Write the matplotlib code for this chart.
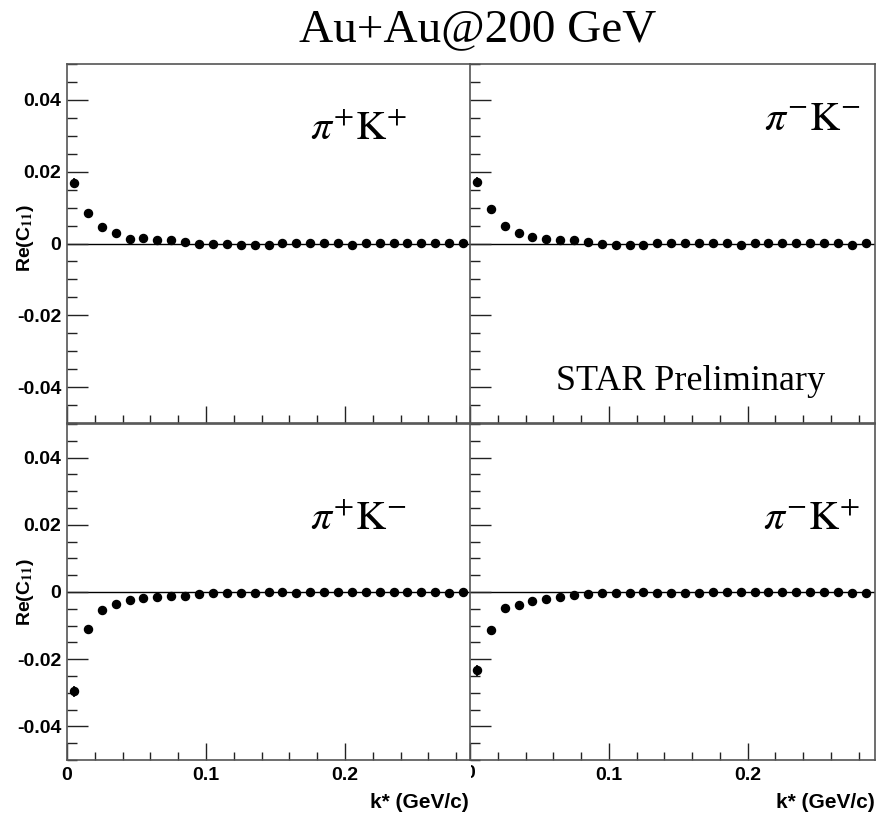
import matplotlib
matplotlib.use("Agg")
import matplotlib.pyplot as plt
from matplotlib.ticker import MultipleLocator
from matplotlib.transforms import Bbox, TransformedBbox

# k* bin centres (GeV/c)
kstar = [0.005, 0.015, 0.025, 0.035, 0.045, 0.055, 0.065, 0.075, 0.085, 0.095,
         0.105, 0.115, 0.125, 0.135, 0.145, 0.155, 0.165, 0.175, 0.185, 0.195,
         0.205, 0.215, 0.225, 0.235, 0.245, 0.255, 0.265, 0.275, 0.285]

# Re(C11) per pair
pipkp = [0.0169, 0.0085, 0.0047, 0.0029, 0.0013, 0.0016, 0.0010, 0.0010, 0.0003, 0.0000,
         0.0000, 0.0000, -0.0003, -0.0003, -0.0003, 0.0001, 0.0001, 0.0001, 0.0001, 0.0001,
         -0.0003, 0.0001, 0.0001, 0.0001, 0.0001, 0.0001, 0.0001, 0.0001, 0.0001]
pimkm = [0.0171, 0.0095, 0.0050, 0.0030, 0.0017, 0.0013, 0.0010, 0.0011, 0.0004, 0.0000,
         -0.0004, -0.0003, -0.0003, 0.0001, 0.0001, 0.0001, 0.0001, 0.0001, 0.0001, -0.0004,
         0.0001, 0.0001, 0.0001, 0.0001, 0.0001, 0.0001, 0.0001, -0.0004, 0.0001]
pipkm = [-0.0296, -0.0109, -0.0053, -0.0035, -0.0024, -0.0019, -0.0015, -0.0011, -0.0011, -0.0007,
         -0.0004, -0.0004, -0.0004, -0.0004, -0.0001, -0.0001, -0.0004, -0.0001, -0.0001, -0.0001,
         -0.0001, -0.0001, -0.0001, -0.0001, -0.0001, -0.0001, -0.0001, -0.0004, 0.0000]
pimkp = [-0.0233, -0.0112, -0.0049, -0.0038, -0.0028, -0.0021, -0.0014, -0.0010, -0.0007, -0.0003,
         -0.0003, -0.0003, 0.0000, -0.0003, -0.0003, -0.0003, -0.0003, 0.0000, 0.0000, 0.0000,
         0.0000, 0.0000, 0.0000, 0.0000, 0.0000, 0.0000, 0.0000, -0.0003, -0.0003]

# statistical errors (only the first bins stick out of the markers)
err_pipkp = [0.0013, 0.0006] + [0.0003] * 27
err_pimkm = [0.0013, 0.0006] + [0.0003] * 27
err_pipkm = [0.0016, 0.0006] + [0.0003] * 27
err_pimkp = [0.0016, 0.0006] + [0.0003] * 27

pair_labels = [r"$\pi^{+}\mathrm{K}^{+}$", r"$\pi^{-}\mathrm{K}^{-}$",
               r"$\pi^{+}\mathrm{K}^{-}$", r"$\pi^{-}\mathrm{K}^{+}$"]

plt.rcParams["mathtext.fontset"] = "stix"
tick_font = {"family": "Liberation Sans", "weight": "bold", "size": 14}

W, H = 877, 817
fig = plt.figure(figsize=(W / 100, H / 100), dpi=100)


def px_axes(x0, x1, y0, y1):
    # y measured from top in pixels
    return fig.add_axes([x0 / W, 1 - y1 / H, (x1 - x0) / W, (y1 - y0) / H])


ax_tl = px_axes(67, 470, 64, 423)
ax_tr = px_axes(470, 875, 64, 423)
ax_bl = px_axes(67, 470, 424, 760)
ax_br = px_axes(470, 875, 424, 760)

panels = [
    (ax_tl, pipkp, err_pipkp, 0.290),
    (ax_tr, pimkm, err_pimkm, 0.2918),
    (ax_bl, pipkm, err_pipkm, 0.290),
    (ax_br, pimkp, err_pimkp, 0.2918),
]

for ax, vals, errs, xmax in panels:
    ax.patch.set_alpha(0)
    ax.axhline(0, color="black", lw=1.0, zorder=1)
    ax.errorbar(kstar, vals, yerr=errs, fmt="o", color="black", ms=5.8,
                elinewidth=1.2, capsize=0, zorder=3, clip_on=False)
    ax.set_xlim(0, xmax)
    ax.set_ylim(-0.05, 0.05)
    ax.xaxis.set_major_locator(MultipleLocator(0.1))
    ax.xaxis.set_minor_locator(MultipleLocator(0.02))
    ax.yaxis.set_major_locator(MultipleLocator(0.02))
    ax.yaxis.set_minor_locator(MultipleLocator(0.005))
    ax.tick_params(axis="both", which="both", direction="in", color="#222222",
                   top=False, right=False, width=1.0)
    ax.tick_params(axis="x", which="major", length=12, pad=5)
    ax.tick_params(axis="x", which="minor", length=6)
    ax.tick_params(axis="y", which="major", length=15, pad=4)
    ax.tick_params(axis="y", which="minor", length=7)
    for s in ax.spines.values():
        s.set_color("#555555")
        s.set_linewidth(1.2)
    if ax in (ax_tl, ax_bl):
        ax.spines["right"].set_visible(False)
        ax.set_yticks([-0.04, -0.02, 0, 0.02, 0.04])
        ax.set_yticklabels(["-0.04", "-0.02", "0", "0.02", "0.04"], fontdict=tick_font)
    else:
        ax.set_yticklabels([])
    if ax in (ax_tl, ax_tr):
        ax.set_xticklabels([])
    elif ax is ax_bl:
        ax.set_xticks([0, 0.1, 0.2])
        ax.set_xticklabels(["0", "0.1", "0.2"], fontdict=tick_font)
    else:
        ax.set_xticks([0, 0.1, 0.2])
        ax.set_xticklabels(["", "0.1", "0.2"], fontdict=tick_font)

# pair labels
fig.text(310 / W, 1 - 128 / H, pair_labels[0], fontsize=30, ha="left", va="center")
fig.text(860 / W, 1 - 118 / H, pair_labels[1], fontsize=30, ha="right", va="center")
fig.text(310 / W, 1 - 518 / H, pair_labels[2], fontsize=30, ha="left", va="center")
fig.text(860 / W, 1 - 518 / H, pair_labels[3], fontsize=30, ha="right", va="center")

fig.text(691 / W, 1 - 381 / H, "STAR Preliminary", family="Liberation Serif",
         fontsize=26, ha="center", va="center")
fig.text(478 / W, 1 - 30 / H, "Au+Au@200 GeV", family="Liberation Serif",
         fontsize=34, ha="center", va="center")

# y titles
for yc in (238, 592):
    fig.text(25 / W, 1 - yc / H, r"Re(C$_{\mathbf{11}}$)", family="Liberation Sans",
             weight="bold", fontsize=14, rotation=90, ha="center", va="center")

# x titles
for xr in (469, 875):
    fig.text(xr / W, 1 - 803 / H, "k* (GeV/c)", family="Liberation Sans",
             weight="bold", fontsize=15, ha="right", va="center")

# the right panel's "0" label is half hidden behind the left pad
zero = fig.text(470 / W, 1 - 774 / H, "0", family="Liberation Sans", weight="bold",
                fontsize=14, ha="center", va="center")
zero.set_clip_box(TransformedBbox(Bbox([[471 / W, 0], [1, 1]]), fig.transFigure))
zero.set_clip_on(True)

fig.savefig("out.png", dpi=100)
